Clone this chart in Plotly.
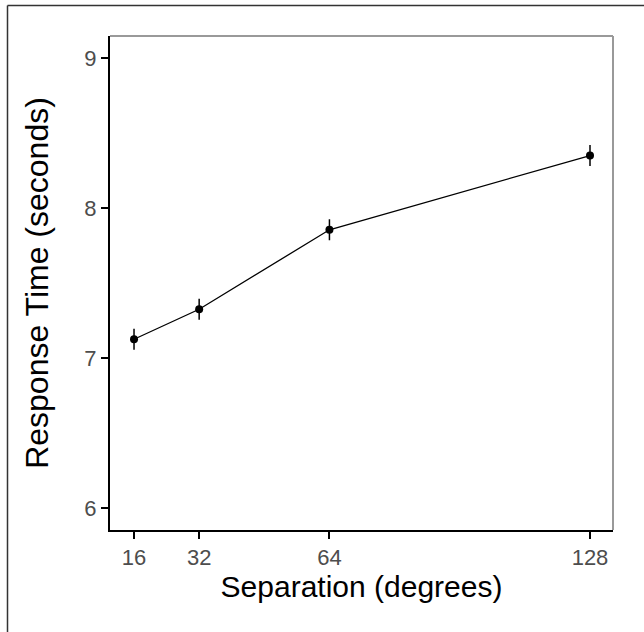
import plotly.graph_objects as go

separation = [16, 32, 64, 128]
response_time = [7.125, 7.325, 7.855, 8.35]
error = [0.07, 0.07, 0.07, 0.07]
x_ticks = [16, 32, 64, 128]
y_ticks = [6, 7, 8, 9]

FONT = "Arial"
TICKFONT = "Liberation Sans"

fig = go.Figure()
fig.add_trace(go.Scatter(
    x=separation, y=response_time, mode="lines+markers",
    line=dict(color="black", width=1.3),
    marker=dict(color="black", size=8),
    error_y=dict(type="data", array=error, visible=True, color="black", thickness=1.5, width=0),
    showlegend=False,
))

W, H = 644, 632
ml, mr, mt, mb = 110, 31, 36, 102
pw = W - ml - mr
ph = H - mt - mb

def px_x(p):
    return (p - ml) / pw

def px_y(p):
    return (H - mb - p) / ph

fig.update_layout(
    width=W, height=H,
    margin=dict(l=ml, r=mr, t=mt, b=mb),
    paper_bgcolor="white", plot_bgcolor="white",
    font=dict(family=FONT),
    xaxis=dict(
        range=[10.1, 133.65], tickvals=x_ticks, ticktext=[str(v) for v in x_ticks],
        showgrid=False, zeroline=False, showline=True, linecolor="black", linewidth=2,
        ticks="outside", ticklen=7, tickwidth=2, tickcolor="black",
        tickfont=dict(family=TICKFONT, size=22, color="#4d4d4d"),
        title=dict(text="Separation (degrees)", font=dict(family=FONT, size=30, color="black"), standoff=5),
    ),
    yaxis=dict(
        range=[5.853, 9.147], tickvals=y_ticks, ticktext=[str(v) for v in y_ticks],
        showgrid=False, zeroline=False, showline=True, linecolor="black", linewidth=2,
        ticks="outside", ticklen=7, tickwidth=2, tickcolor="black",
        tickfont=dict(family=TICKFONT, size=22, color="#4d4d4d"),
        title=dict(text="Response Time (seconds)", font=dict(family=FONT, size=32, color="black"), standoff=26),
    ),
    shapes=[
        dict(type="line", xref="paper", yref="paper", x0=0, x1=1, y0=1, y1=1,
             line=dict(color="#999999", width=2)),
        dict(type="line", xref="paper", yref="paper", x0=1, x1=1, y0=0, y1=1,
             line=dict(color="#999999", width=2)),
        dict(type="line", xref="paper", yref="paper", x0=px_x(7.5), x1=px_x(7.5),
             y0=px_y(5.5), y1=px_y(700), line=dict(color="#333333", width=1.5)),
        dict(type="line", xref="paper", yref="paper", x0=px_x(7.5), x1=px_x(700),
             y0=px_y(5.5), y1=px_y(5.5), line=dict(color="#333333", width=1.5)),
    ],
)

fig.write_html("out.html", config={"displayModeBar": False},
               post_script="document.body.style.margin='0';")
